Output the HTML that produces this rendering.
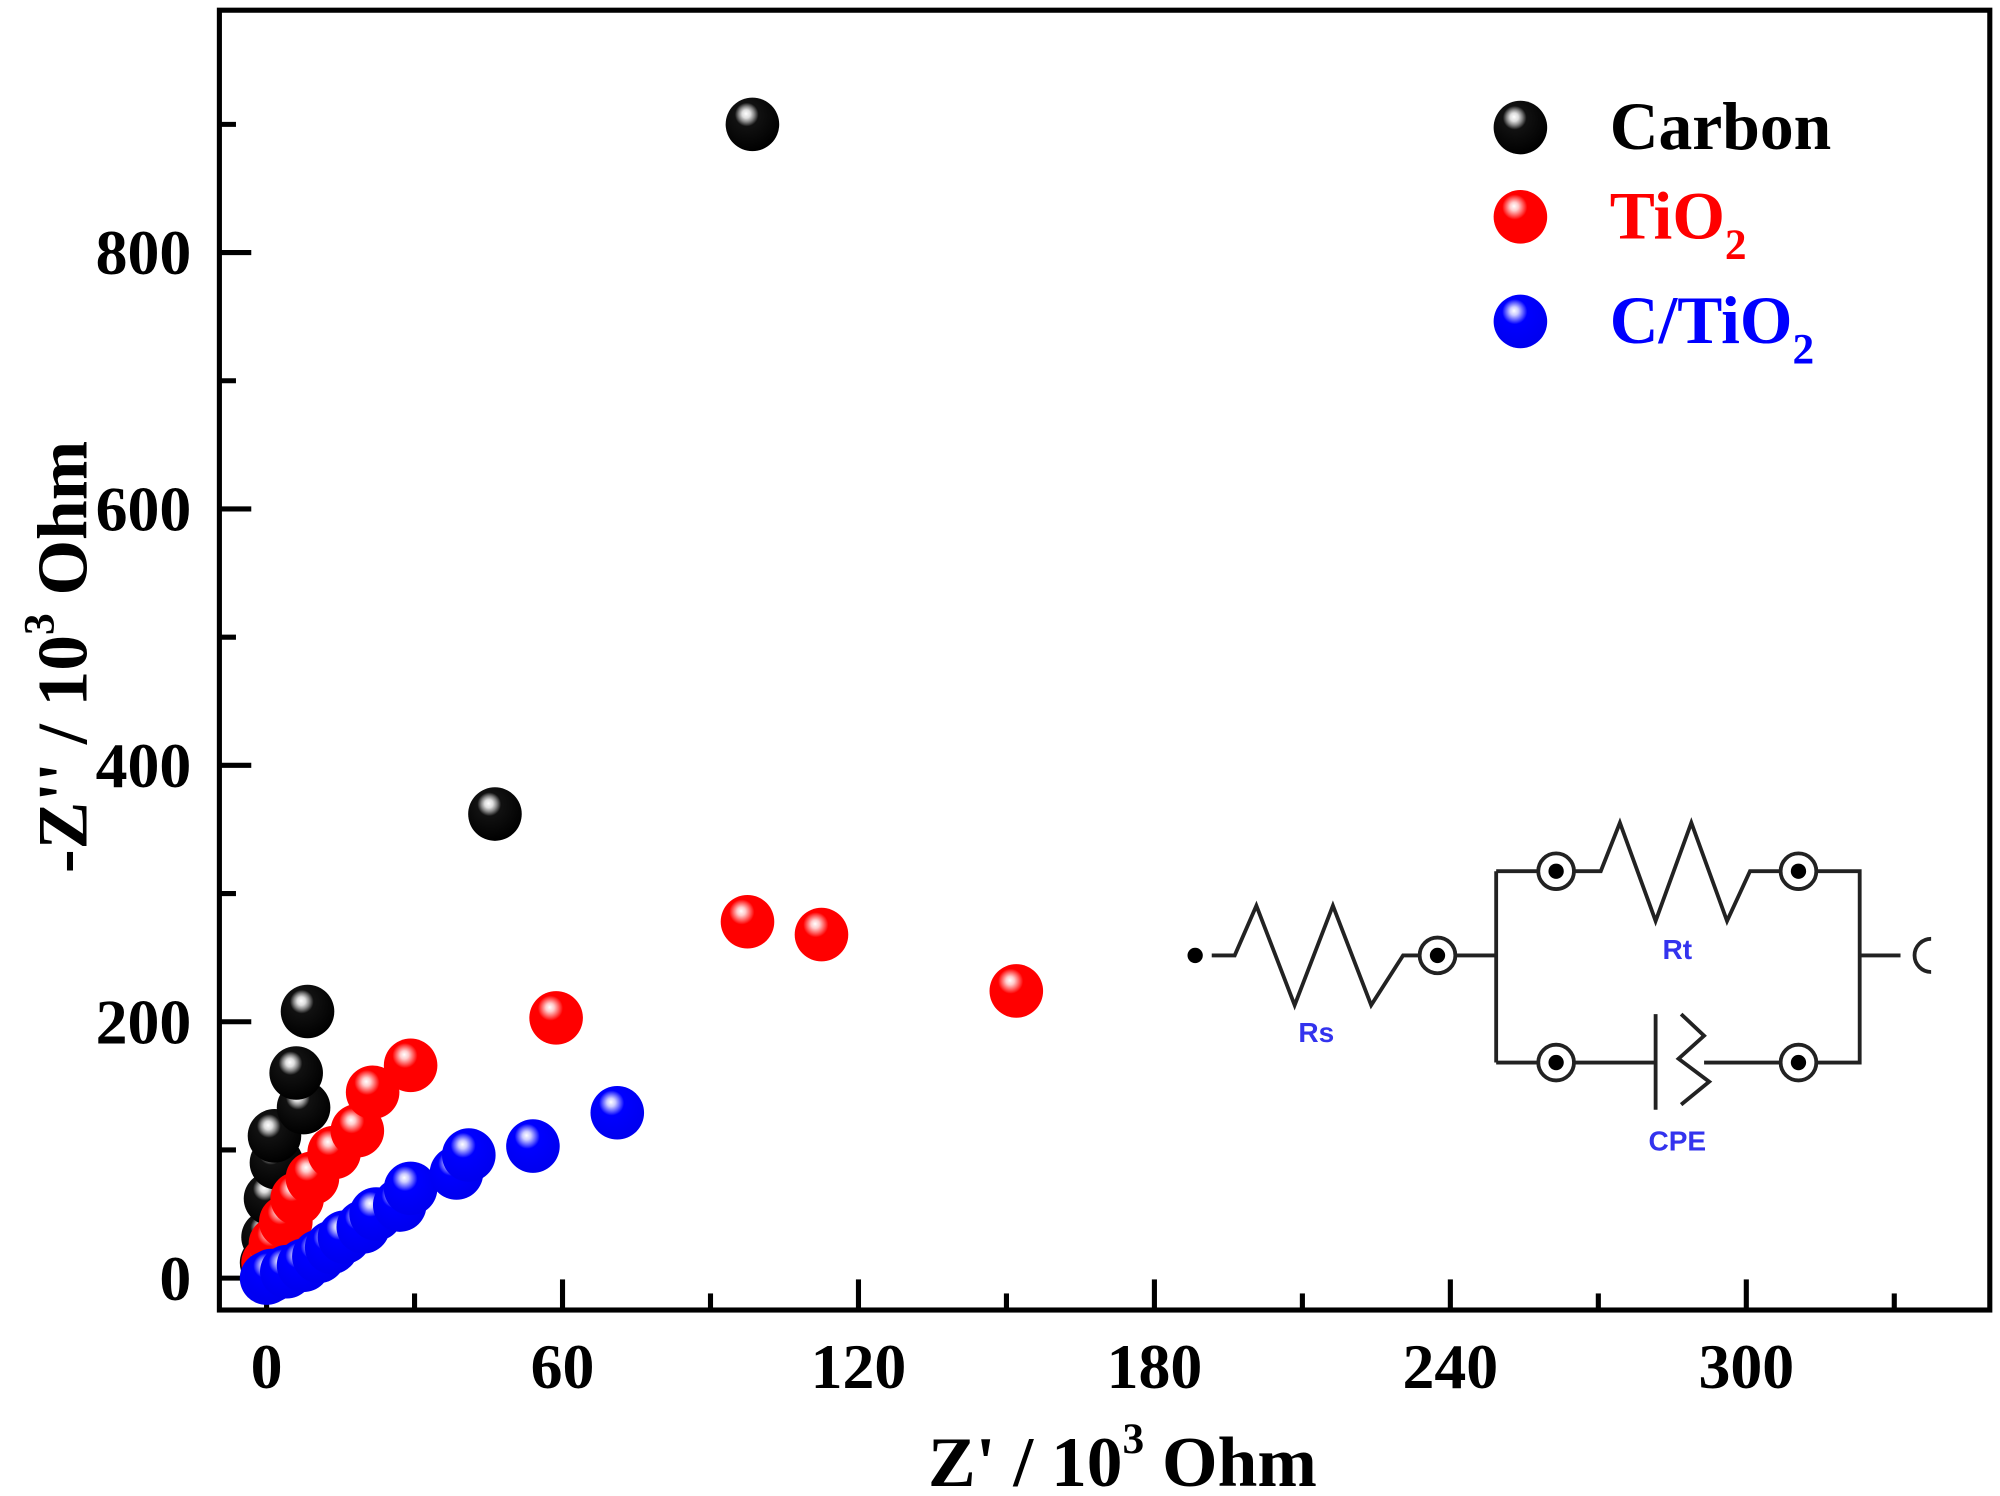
<!DOCTYPE html>
<html><head><meta charset="utf-8"><style>html,body{margin:0;padding:0;background:#fff}svg{display:block}</style></head>
<body>
<svg id="chart" width="2000" height="1496" viewBox="0 0 1568 1172.8" preserveAspectRatio="none" xmlns="http://www.w3.org/2000/svg" font-family="'Liberation Serif', serif" font-weight="bold">
<defs>
<radialGradient id="gk" cx="0.42" cy="0.35" r="0.65" fx="0.38" fy="0.3"><stop offset="0" stop-color="#fff"/><stop offset="0.12" stop-color="#ddd"/><stop offset="0.22" stop-color="#888"/><stop offset="0.34" stop-color="#111"/><stop offset="1" stop-color="#000"/></radialGradient>
<radialGradient id="gr" cx="0.42" cy="0.35" r="0.65" fx="0.38" fy="0.3"><stop offset="0" stop-color="#fff"/><stop offset="0.12" stop-color="#fcc"/><stop offset="0.24" stop-color="#f66"/><stop offset="0.36" stop-color="#f00"/><stop offset="1" stop-color="#f00"/></radialGradient>
<radialGradient id="gb" cx="0.42" cy="0.35" r="0.65" fx="0.38" fy="0.3"><stop offset="0" stop-color="#fff"/><stop offset="0.12" stop-color="#ccf"/><stop offset="0.24" stop-color="#66f"/><stop offset="0.36" stop-color="#00f"/><stop offset="1" stop-color="#00e"/></radialGradient>
</defs>
<g id="axes"></g>
<g id="marks"></g>
<g id="legend">
<circle cx="1192" cy="100" r="21" fill="url(#gk)"/>
<text x="1262" y="117" font-size="53" fill="#000">Carbon</text>
<circle cx="1192" cy="170" r="21" fill="url(#gr)"/>
<text x="1262" y="187" font-size="53" fill="#f00">TiO<tspan font-size="34" dy="16">2</tspan></text>
<circle cx="1192" cy="252" r="21" fill="url(#gb)"/>
<text x="1262" y="269" font-size="53" fill="#00f">C/TiO<tspan font-size="34" dy="16">2</tspan></text>
</g>
<g id="circuit" stroke="#222" stroke-width="3" fill="none">
<circle cx="937" cy="749" r="6" fill="#000" stroke="none"/>
<polyline points="950,749 968,749 985,710 1015,788 1045,710 1075,788 1100,749 1113,749"/>
<circle cx="1127" cy="749" r="14" fill="#fff"/><circle cx="1127" cy="749" r="6" fill="#000" stroke="none"/>
<polyline points="1141,749 1173,749"/>
<polyline points="1173,683 1173,833"/>
<polyline points="1173,683 1206,683"/>
<circle cx="1220" cy="683" r="14" fill="#fff"/><circle cx="1220" cy="683" r="6" fill="#000" stroke="none"/>
<polyline points="1234,683 1255,683 1270,645 1298,722 1326,645 1354,722 1372,683 1396,683"/>
<circle cx="1410" cy="683" r="14" fill="#fff"/><circle cx="1410" cy="683" r="6" fill="#000" stroke="none"/>
<polyline points="1424,683 1458,683 1458,833 1424,833"/>
<polyline points="1173,833 1206,833"/>
<circle cx="1220" cy="833" r="14" fill="#fff"/><circle cx="1220" cy="833" r="6" fill="#000" stroke="none"/>
<polyline points="1234,833 1298,833"/>
<polyline points="1298,795 1298,870"/>
<polyline points="1318,795 1336,812 1316,830 1340,848 1318,866"/>
<polyline points="1336,833 1396,833"/>
<circle cx="1410" cy="833" r="14" fill="#fff"/><circle cx="1410" cy="833" r="6" fill="#000" stroke="none"/>
<polyline points="1458,749 1490,749"/>
<path d="M1514,736 A13,13 0 1 0 1514,762"/>
<g stroke="none" fill="#3333ee" font-family="'Liberation Sans', sans-serif" font-size="22" text-anchor="middle">
<text x="1032" y="817">Rs</text><text x="1315" y="752">Rt</text><text x="1315" y="902">CPE</text>
</g>
</g>
</svg>
<script>
var xTicks=[0,60,120,180,240,300];
var yTicks=[0,200,400,600,800];
var carbonX=[0,0.3,0.8,2,1.6,7.5,6,8.3,46.3,98.5];
var carbonY=[12,32,62,90,111,133,160,208,362,900];
var tio2X=[0.3,1.8,3.9,6.2,9.3,13.7,18.4,21.5,29.2,58.7,97.5,112.5,152];
var tio2Y=[12,27,44,62,78,98,115,145,166,203,278,268,224];
var ctio2X=[0,1,4.1,7.5,10.6,13.2,15.8,19.6,22.2,27,29.2,38.5,41,54,71.1];
var ctio2Y=[0,2,5,10,17,24,32,40,50,57,70,82,96,103,129];
var NS='http://www.w3.org/2000/svg';
function sx(v){return 209+v*3.867;}
function sy(v){return 1002-v*1.005;}
var ax=document.getElementById('axes');
function mk(tag,attrs,parent){var e=document.createElementNS(NS,tag);for(var k in attrs)e.setAttribute(k,attrs[k]);parent.appendChild(e);return e;}
function addTitle(parent,x,y,tf,label,name){
  var t=mk('text',{x:x,y:y,'font-size':56,'text-anchor':'middle'},parent);
  if(tf)t.setAttribute('transform',tf);
  var a=document.createElementNS(NS,'tspan');a.textContent=label+' / 10';t.appendChild(a);
  var b=document.createElementNS(NS,'tspan');b.setAttribute('font-size','34');b.setAttribute('dy','-26');b.textContent='3';t.appendChild(b);
  var c=document.createElementNS(NS,'tspan');c.setAttribute('dy','26');c.textContent=' Ohm';t.appendChild(c);
  
  
}
var frame=mk('rect',{x:172,y:8,width:1388,height:1019,fill:'none',stroke:'#000','stroke-width':4},ax);


for(var i=0;i<xTicks.length;i++){
  var X=sx(xTicks[i]);
  var t=mk('line',{x1:X,y1:1027,x2:X,y2:1003,stroke:'#000','stroke-width':4},ax);
  
  
  var m=mk('line',{x1:sx(xTicks[i]+30),y1:1027,x2:sx(xTicks[i]+30),y2:1014,stroke:'#000','stroke-width':4},ax);
  
  
  var l=mk('text',{x:X,y:1088,'font-size':50,'text-anchor':'middle'},ax);l.textContent=xTicks[i];
  
  
}
for(var j=0;j<yTicks.length;j++){
  var Y=sy(yTicks[j]);
  var t2=mk('line',{x1:172,y1:Y,x2:197,y2:Y,stroke:'#000','stroke-width':4},ax);
  
  
  var m2=mk('line',{x1:172,y1:sy(yTicks[j]+100),x2:185,y2:sy(yTicks[j]+100),stroke:'#000','stroke-width':4},ax);
  
  
  var l2=mk('text',{x:150,y:Y+17,'font-size':50,'text-anchor':'end'},ax);l2.textContent=yTicks[j];
  
  
}
addTitle(ax,880,1165,null,"Z'",'x-axis-title');
addTitle(ax,0,0,'translate(68,515) rotate(-90)',"-Z''",'y-axis-title');
var mg=document.getElementById('marks');
function series(xs,ys,grad,name){
  for(var k=0;k<xs.length;k++){
    var c=mk('circle',{cx:sx(xs[k]),cy:sy(ys[k]),r:21,fill:'url(#'+grad+')'},mg);
    
    
  }
}
series(carbonX,carbonY,'gk','carbon-point');
series(tio2X,tio2Y,'gr','tio2-point');
series(ctio2X,ctio2Y,'gb','c-tio2-point');
</script>
</body></html>
